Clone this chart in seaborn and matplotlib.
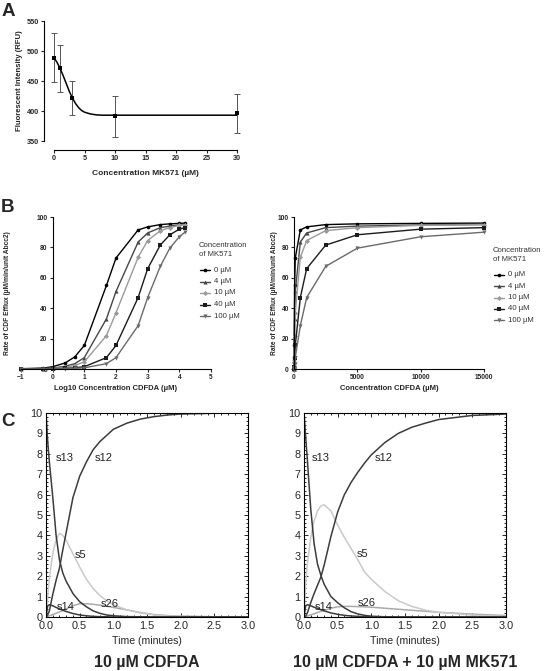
import numpy as np
import pandas as pd
import seaborn as sns
import matplotlib.pyplot as plt
from matplotlib.lines import Line2D
from matplotlib.ticker import AutoMinorLocator

# ---- panel A: fluorescence vs MK571
mk571_conc = [0, 1, 3, 10, 30]
rfu_mean = [489, 471, 422, 391, 396]
rfu_err = [41, 39, 28, 34, 33]
fit_conc = [0, 0.5, 1, 1.5, 2, 2.5, 3, 3.5, 4, 4.5, 5, 6, 7, 8, 10, 30]
fit_rfu = [489, 481, 471, 459, 446, 433, 422, 413, 406, 401, 398, 395, 393.5, 393, 393, 393]

# ---- panel B: CDF efflux rate
cdfda_conc = [0.1, 0.5, 1, 2.5, 5, 10, 50, 100, 500, 1000, 2500, 5000, 10000, 15000]
mk_levels = ['0 µM', '4 µM', '10 µM', '40 µM', '100 µM']
efflux_0 = [0.2, 0.6, 1.5, 4.0, 8.0, 15.5, 55, 73, 91.5, 93.5, 95, 95.5, 95.8, 96]
efflux_4 = [0.1, 0.3, 0.6, 1.8, 3.5, 7.5, 33, 51, 83.5, 89.5, 93, 94, 94.8, 95]
efflux_10 = [0.05, 0.2, 0.4, 1.1, 2.3, 4.7, 22, 37, 73.5, 84.5, 91, 93, 94.5, 95]
efflux_40 = [0, 0.1, 0.2, 0.4, 0.8, 1.5, 7.5, 15.5, 47, 66, 81.5, 88.3, 92, 93]
efflux_100 = [0, 0.05, 0.1, 0.2, 0.4, 0.8, 3.5, 7.5, 28.5, 47, 67.5, 79.5, 87, 90]

# ---- panel C: simulated species over time
time_min = [0, 0.025, 0.05, 0.1, 0.15, 0.2, 0.25, 0.3, 0.4, 0.5, 0.6, 0.7, 0.8, 0.9,
            1.0, 1.2, 1.4, 1.6, 1.8, 2.0, 2.5, 3.0]
time_ticks = ['0.0', '0.5', '1.0', '1.5', '2.0', '2.5', '3.0']
# 10 uM CDFDA
s13_a = [10, 8.6, 7.6, 5.9, 4.0, 2.8, 2.15, 1.75, 1.15, 0.75, 0.5, 0.3, 0.18, 0.1,
         0.06, 0.02, 0.01, 0, 0, 0, 0, 0]
s12_a = [0, 0.1, 0.3, 1.1, 1.8, 2.4, 3.3, 4.15, 5.85, 6.9, 7.6, 8.2, 8.6, 8.9,
         9.2, 9.5, 9.7, 9.82, 9.9, 9.95, 9.99, 10]
s5_a = [0, 1.0, 1.9, 3.1, 3.8, 4.1, 4.0, 3.75, 3.1, 2.45, 1.85, 1.4, 1.05, 0.8,
        0.6, 0.35, 0.2, 0.1, 0.05, 0.03, 0.01, 0]
s26_a = [0, 0.03, 0.06, 0.12, 0.18, 0.25, 0.32, 0.4, 0.55, 0.65, 0.65, 0.62, 0.58, 0.53,
         0.47, 0.35, 0.22, 0.12, 0.07, 0.04, 0.01, 0]
s14_a = [0, 0.55, 0.6, 0.55, 0.47, 0.4, 0.33, 0.27, 0.17, 0.1, 0.06, 0.03, 0.015, 0.01,
         0, 0, 0, 0, 0, 0, 0, 0]
# 10 uM CDFDA + 10 uM MK571
s13_b = [10, 8.8, 7.7, 5.3, 3.6, 2.6, 2.05, 1.6, 1.0, 0.7, 0.45, 0.26, 0.15, 0.08,
         0.04, 0.01, 0, 0, 0, 0, 0, 0]
s12_b = [0, 0.05, 0.2, 0.7, 1.15, 1.55, 1.95, 2.55, 3.95, 5.15, 6.0, 6.6, 7.1, 7.55,
         7.95, 8.55, 9.0, 9.3, 9.5, 9.68, 9.88, 9.95]
s5_b = [0, 1.6, 2.6, 3.9, 4.7, 5.2, 5.45, 5.5, 5.2, 4.5, 3.9, 3.35, 2.8, 2.2,
        1.85, 1.25, 0.8, 0.52, 0.34, 0.23, 0.09, 0.03]
s26_b = [0, 0.03, 0.05, 0.1, 0.16, 0.22, 0.28, 0.33, 0.43, 0.5, 0.52, 0.52, 0.51, 0.5,
         0.48, 0.43, 0.38, 0.33, 0.28, 0.23, 0.14, 0.07]
s14_b = [0, 0.55, 0.6, 0.55, 0.48, 0.42, 0.36, 0.3, 0.2, 0.13, 0.08, 0.05, 0.03, 0.015,
         0.01, 0, 0, 0, 0, 0, 0, 0]

sns.set_style('ticks')
plt.rcParams['font.family'] = ['Liberation Sans', 'DejaVu Sans']
plt.rcParams['axes.linewidth'] = 0.8
plt.rcParams['axes.edgecolor'] = 'black'

W, H = 544, 671
fig = plt.figure(figsize=(W / 100, H / 100), dpi=100)


def px_axes(l, t, r, b):
    return fig.add_axes([l / W, 1 - b / H, (r - l) / W, (b - t) / H])


def ftext(x, y, s, **kw):
    fig.text(x / W, 1 - y / H, s, **kw)


# ================= A
axA = px_axes(54, 21, 237, 141)
axA.errorbar(mk571_conc, rfu_mean, yerr=rfu_err, fmt='none', ecolor='#555555',
             elinewidth=0.7, capsize=2.2, capthick=0.7, clip_on=False)
sns.lineplot(x=fit_conc, y=fit_rfu, ax=axA, color='black', linewidth=1.1, errorbar=None)
sns.scatterplot(x=mk571_conc, y=rfu_mean, ax=axA, marker='s', color='black', s=12,
                edgecolor='black', linewidth=0, clip_on=False, zorder=5)
axA.set_xlim(0, 30)
axA.set_ylim(350, 550)
axA.set_xticks(range(0, 31, 5))
axA.set_yticks(range(350, 551, 50))
sns.despine(ax=axA, offset={'left': 7, 'bottom': 6.5})
axA.tick_params(labelsize=5.2, length=2.2, width=0.8, pad=1.5)
for lab in axA.get_xticklabels() + axA.get_yticklabels():
    lab.set_fontweight('bold')
axA.set_xlabel('')
axA.set_ylabel('')
ftext(20, 81, 'Fluorescent Intensity (RFU)', rotation=90, ha='center', va='center',
      fontsize=5.6, fontweight='bold')
ftext(145, 173, 'Concentration MK571 (µM)', ha='center', va='center',
      fontsize=6, fontweight='bold')

# ================= B
series = [efflux_0, efflux_4, efflux_10, efflux_40, efflux_100]
colors = ['#000000', '#474747', '#9a9a9a', '#1c1c1c', '#6a6a6a']
markers = ['o', '^', 'D', 's', 'v']
msizes = [2.6, 3.0, 2.6, 3.4, 3.0]
rows = []
for lvl, vals in zip(mk_levels, series):
    for c, v in zip(cdfda_conc, vals):
        rows.append({'mk': lvl, 'conc': c, 'logc': np.log10(c), 'rate': v})
dfB = pd.DataFrame(rows)

axBL = px_axes(21, 217, 211, 369)
axBR = px_axes(294, 217, 484, 369)
for ax, xcol in [(axBL, 'logc'), (axBR, 'conc')]:
    for lvl, col, mk, ms in zip(mk_levels, colors, markers, msizes):
        sub = dfB[dfB['mk'] == lvl]
        sns.lineplot(data=sub, x=xcol, y='rate', ax=ax, color=col, linewidth=1.0,
                     marker=mk, markersize=ms, markeredgecolor=col, markeredgewidth=0,
                     errorbar=None, clip_on=False)
    ax.set_ylim(0, 100)
    ax.set_yticks(range(0, 101, 20))
    ax.spines['left'].set_position(('data', 0))
    ax.spines['top'].set_visible(False)
    ax.spines['right'].set_visible(False)
    ax.tick_params(labelsize=4.8, length=2.2, width=0.8, pad=1.5)
    ax.set_xlabel('')
    ax.set_ylabel('')

axBL.set_xlim(-1, 5)
axBL.set_xticks(range(-1, 6))
axBR.set_xlim(0, 15000)
axBR.set_xticks([0, 5000, 10000, 15000])
for ax in (axBL, axBR):
    for lab in ax.get_xticklabels() + ax.get_yticklabels():
        lab.set_fontweight('bold')

ftext(8, 293, 'Rate of CDF Efflux (µM/min/unit Abcc2)', rotation=90, ha='center',
      va='center', fontsize=4.8, fontweight='bold')
ftext(116, 389, 'Log10 Concentration CDFDA (µM)', ha='center', va='center',
      fontsize=5.5, fontweight='bold')
ftext(275, 293, 'Rate of CDF Efflux (µM/min/unit Abcc2)', rotation=90, ha='center',
      va='center', fontsize=4.8, fontweight='bold')
ftext(389, 389, 'Concentration CDFDA (µM)', ha='center', va='center',
      fontsize=5.5, fontweight='bold')


def draw_legend(x0, ytitle, yfirst, dy):
    ftext(x0, ytitle, 'Concentration\nof MK571', ha='left', va='center',
          fontsize=5.6, color='#333333', linespacing=1.25)
    for i, (lvl, col, mk, ms) in enumerate(zip(mk_levels, colors, markers, msizes)):
        y = yfirst + i * dy
        fy = 1 - y / H
        fig.add_artist(Line2D([(x0 + 1) / W, (x0 + 6) / W, (x0 + 11) / W], [fy, fy, fy],
                              transform=fig.transFigure, color=col, linewidth=1.0,
                              marker=mk, markersize=ms, markevery=[1],
                              markeredgewidth=0))
        ftext(x0 + 15, y, lvl, ha='left', va='center', fontsize=5.6, color='#333333')


draw_legend(199, 250, 270, 11.5)
draw_legend(493, 255, 275, 11.3)

# ================= C
species = ['s13', 's12', 's5', 's26', 's14']
spec_colors = {'s13': '#3c3c3c', 's12': '#3c3c3c', 's5': '#cacaca',
               's26': '#a9a9a9', 's14': '#3c3c3c'}
panels = [
    ((46, 413, 248, 617), [s13_a, s12_a, s5_a, s26_a, s14_a], '10 µM CDFDA',
     {'s13': (0.15, 7.8), 's12': (0.73, 7.8), 's5': (0.43, 3.05),
      's14': (0.16, 0.5), 's26': (0.82, 0.64)}),
    ((304, 413, 506, 617), [s13_b, s12_b, s5_b, s26_b, s14_b],
     '10 µM CDFDA + 10 µM MK571',
     {'s13': (0.12, 7.8), 's12': (1.05, 7.8), 's5': (0.78, 3.1),
      's14': (0.16, 0.5), 's26': (0.8, 0.69)}),
]
for (l, t, r, b), vals, title, labpos in panels:
    ax = px_axes(l, t, r, b)
    dfC = pd.DataFrame({'time': time_min})
    for sp, v in zip(species, vals):
        dfC[sp] = v
    dfC = dfC.melt(id_vars='time', var_name='species', value_name='amount')
    for sp in ['s26', 's5', 's14', 's13', 's12']:
        sub = dfC[dfC['species'] == sp]
        sns.lineplot(data=sub, x='time', y='amount', ax=ax, color=spec_colors[sp],
                     linewidth=1.1, errorbar=None)
    for sp, (tx, ty) in labpos.items():
        ax.text(tx, ty, sp, ha='left', va='center', fontsize=8, color='#222222')
    ax.set_xlim(0, 3)
    ax.set_ylim(0, 10)
    ax.set_xticks(np.arange(0, 3.01, 0.5))
    ax.set_xticklabels(time_ticks)
    ax.set_yticks(range(0, 11))
    ax.xaxis.set_minor_locator(AutoMinorLocator(5))
    ax.yaxis.set_minor_locator(AutoMinorLocator(5))
    ax.tick_params(which='both', direction='in', top=True, right=True, width=0.7,
                   labelsize=7.8)
    ax.tick_params(axis='x', pad=3.2)
    ax.tick_params(axis='y', pad=2.5)
    ax.tick_params(which='major', length=3)
    ax.tick_params(which='minor', length=1.5)
    ax.set_xlabel('')
    ax.set_ylabel('')
    cx = (l + r) / 2
    ftext(cx, 641, 'Time (minutes)', ha='center', va='center', fontsize=7.6)
    ftext(cx, 662, title, ha='center', va='center', fontsize=11.5, fontweight='bold')

# panel letters
ftext(8, 12, 'A', ha='center', va='center', fontsize=13.5, fontweight='bold')
ftext(8, 207, 'B', ha='center', va='center', fontsize=13.5, fontweight='bold')
ftext(8, 421, 'C', ha='center', va='center', fontsize=13.5, fontweight='bold')

fig.savefig('out.png', dpi=100)
